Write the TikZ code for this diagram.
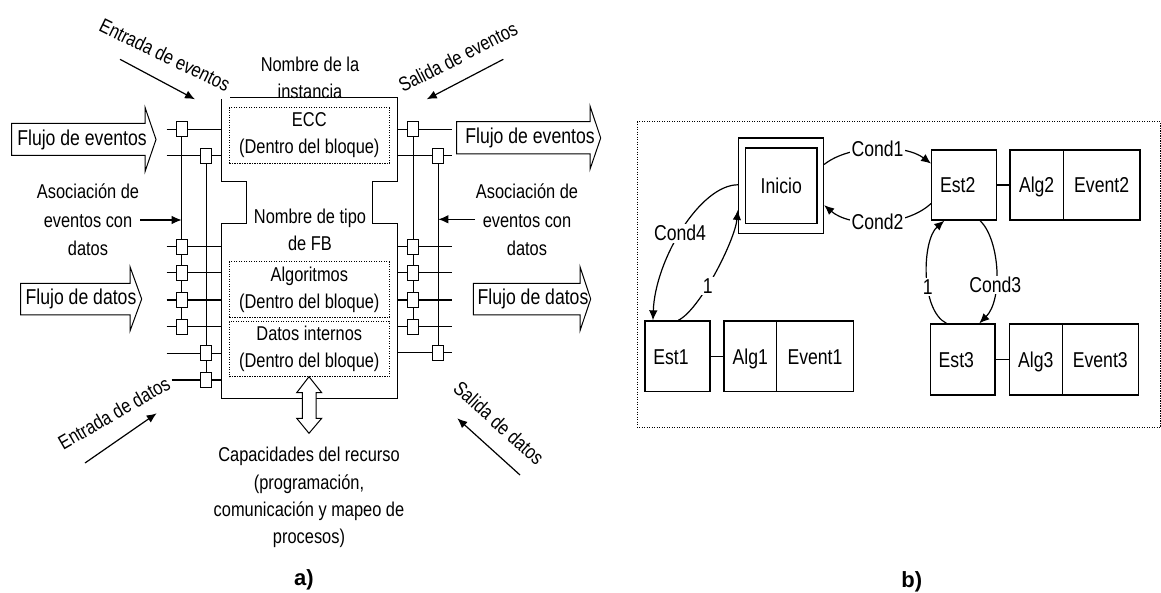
\documentclass[tikz,border=0pt]{standalone}
\usepackage{fontspec}
\setmainfont{Liberation Sans}[FakeStretch=0.82]
\newfontfamily\labfont{Liberation Sans}
\usetikzlibrary{arrows.meta,calc}
\begin{document}
\begin{tikzpicture}[x=1pt,y=-1pt,line width=1.2pt,
  ta/.style={font=\fontsize{20}{27}\selectfont,align=center,inner sep=0pt},
  tf/.style={font=\fontsize{21.5}{27}\selectfont,inner sep=0pt},
  tb/.style={font=\fontsize{21.5}{26}\selectfont,inner sep=1pt},
  lab/.style={tb,fill=white,inner sep=1.5pt},
  pin/.style={draw,fill=white,minimum width=11pt,minimum height=15pt,inner sep=0pt,line width=1pt},
  dotbox/.style={draw,dash pattern=on 1.2pt off 1.3pt,line width=1pt},
  fat/.style={draw,fill=white,line width=1pt,line join=miter},
  arr/.style={-{Latex[length=10pt,width=8.5pt]}},
  st/.style={draw,line width=1.3pt,tb,inner sep=0pt,text height=15.5pt,text depth=0pt},
  flab/.style={font=\labfont\bfseries\fontsize{22}{26}\selectfont,inner sep=0pt},
]
\useasboundingbox (0,0) rectangle (1161,593);

% ---------------- part a ----------------
% function block outline
\draw (230,97.7) -- (397.3,97.7) -- (397.3,181.7) -- (372.7,181.7) -- (372.7,223.3) -- (397.3,223.3) -- (397.3,398.3) -- (221.7,398.3) -- (221.7,223.3) -- (246.7,223.3) -- (246.7,181.7) -- (221.7,181.7) -- (221.7,99.3);

\node[ta] (inst) at (310,78.3) {Nombre de la\\instancia};
\node[ta] (tipo) at (310,230) {Nombre de tipo\\de FB};
\node[ta,dotbox,minimum width=160pt,minimum height=55.6pt] (ecc) at (309.3,135.5) {ECC\\(Dentro del bloque)};
\node[ta,dotbox,minimum width=160pt,minimum height=55.6pt] (alg) at (309.3,289.5) {Algoritmos\\(Dentro del bloque)};
\node[ta,dotbox,minimum width=160pt,minimum height=55pt] (dat) at (309.3,349.2) {Datos internos\\(Dentro del bloque)};

% interface lines
\foreach \y in {129.3,155.7,246.7,272.7,300,326.7,353.3} \draw (166.7,\y) -- (221.7,\y);
\draw (171.7,380) -- (221.7,380);
\foreach \y in {129.3,155.7,246.7,272.7,300,326.7,352.7} \draw (397.3,\y) -- (451.7,\y);

% pins left
\node[pin] (lp1) at (181.7,129.3) {};
\node[pin] (lp2) at (206,155.7) {};
\node[pin] (ld1) at (181.7,246.7) {};
\node[pin] (ld2) at (181.7,272.7) {};
\node[pin] (ld3) at (181.7,300) {};
\node[pin] (ld4) at (181.7,326.7) {};
\node[pin] (ld5) at (206,353.3) {};
\node[pin] (ld6) at (206,380) {};
% pins right
\node[pin] (rp1) at (413.3,129.3) {};
\node[pin] (rp2) at (438.3,155.7) {};
\node[pin] (rd1) at (413.3,246.7) {};
\node[pin] (rd2) at (413.3,272.7) {};
\node[pin] (rd3) at (413.3,300) {};
\node[pin] (rd4) at (413.3,326.7) {};
\node[pin] (rd5) at (438.3,352.7) {};

% association bars
\draw[line width=1pt] (lp1) -- (ld1); \draw[line width=1pt] (ld1) -- (ld2); \draw[line width=1pt] (ld2) -- (ld3); \draw[line width=1pt] (ld3) -- (ld4);
\draw[line width=1pt] (lp2) -- (ld5); \draw[line width=1pt] (ld5) -- (ld6);
\draw[line width=1pt] (rp1) -- (rd1); \draw[line width=1pt] (rd1) -- (rd2); \draw[line width=1pt] (rd2) -- (rd3); \draw[line width=1pt] (rd3) -- (rd4);
\draw[line width=1pt] (rp2) -- (rd5);

% flow arrows
\draw[fat] (11.7,123.3) -- (145,123.3) -- (145,107.3) -- (156,139.5) -- (145,171.7) -- (145,155.3) -- (11.7,155.3) -- cycle;
\node[tf] (fe1) at (82,140) {Flujo de eventos};
\draw[fat] (20.7,283.3) -- (130,283.3) -- (130,266.7) -- (141.7,299) -- (130,331) -- (130,315) -- (20.7,315) -- cycle;
\node[tf] (fd1) at (81,299) {Flujo de datos};
\draw[fat] (456.7,121.7) -- (590,121.7) -- (590,106) -- (600.7,138) -- (590,169.3) -- (590,154) -- (456.7,154) -- cycle;
\node[tf] (fe2) at (530,138) {Flujo de eventos};
\draw[fat] (473.3,283.3) -- (580,283.3) -- (580,266.7) -- (590.7,299) -- (580,330.7) -- (580,315) -- (473.3,315) -- cycle;
\node[tf] (fd2) at (533,299) {Flujo de datos};

% association labels
\node[ta,font=\fontsize{20}{28.3}\selectfont] (asl) at (88,220) {Asociación de\\eventos con\\datos};
\coordinate (aslt) at (140,220);
\draw[arr] (aslt) -- (lp1 |- aslt);
\node[ta,font=\fontsize{20}{28.3}\selectfont] (asr) at (527,220) {Asociación de\\eventos con\\datos};
\coordinate (asrt) at (475,219.3);
\draw[arr] (asrt) -- (rp2 |- asrt);

% diagonal labels and arrows
\node[ta,rotate=-26] (ee) at (165,55) {Entrada de eventos};
\coordinate (ee0) at (120,59.3); \coordinate (ee1) at (195,99.3);
\draw[arr] (ee0) -- (ee1);
\node[ta,rotate=27] (se) at (458,57) {Salida de eventos};
\coordinate (se0) at (503.3,59.3); \coordinate (se1) at (426.7,99.3);
\draw[arr] (se0) -- (se1);
\node[ta,rotate=30] (ed) at (114,413) {Entrada de datos};
\coordinate (ed0) at (85,463); \coordinate (ed1) at (156.7,413.3);
\draw[arr] (ed0) -- (ed1);
\node[ta,rotate=-42] (sd) at (499,423) {Salida de datos};
\coordinate (sd0) at (520,475); \coordinate (sd1) at (457.3,418.3);
\draw[arr] (sd0) -- (sd1);

% resource double arrow
\draw[fat] (309,376.7) -- (321.7,392.7) -- (316,392.7) -- (316,418.3) -- (321.7,418.3) -- (309,433.3) -- (296.7,418.3) -- (302.3,418.3) -- (302.3,392.7) -- (296.7,392.7) -- cycle;
\node[ta,font=\fontsize{20}{27.1}\selectfont] (cap) at (309,497.4) {Capacidades del recurso\\(programación,\\comunicación y mapeo de\\procesos)};

\node[flab] (la) at (304,580) {a)};

% ---------------- part b ----------------
\draw[dotbox] (637.3,121.7) rectangle (1160.5,427.5);

\node[st,minimum width=85pt,minimum height=95.5pt] (ini) at (781,185.75) {};
\node[st,minimum width=71.5pt,minimum height=75.5pt] (iniin) at (781.25,185.75) {Inicio};

\node[st,minimum width=65pt,minimum height=70pt] (est2) at (964.2,185) {Est2\hspace*{13pt}};
\node[st,minimum width=53.3pt,minimum height=70pt] (alg2) at (1036.65,185) {Alg2};
\node[st,minimum width=76.7pt,minimum height=70pt] (ev2) at (1101.65,185) {Event2};
\draw (est2) -- (alg2);

\node[st,minimum width=64.3pt,minimum height=71pt] (est3) at (962.85,359.5) {Est3\hspace*{13pt}};
\node[st,minimum width=53pt,minimum height=71pt] (alg3) at (1035.8,359.5) {Alg3};
\node[st,minimum width=76pt,minimum height=71pt] (ev3) at (1100.3,359.5) {Event3};
\draw (est3) -- (alg3);

\node[st,minimum width=65pt,minimum height=70.7pt] (est1) at (677.5,356.35) {Est1\hspace*{13pt}};
\node[st,minimum width=52.7pt,minimum height=70.7pt] (alg1) at (750.35,356.35) {Alg1};
\node[st,minimum width=76.6pt,minimum height=70.7pt] (ev1) at (815,356.35) {Event1};
\draw (est1) -- (alg1);

% transitions
\draw[arr] ($(ini.north east)!0.28!(ini.south east)$) .. controls (850,144) and (905,144) .. ($(est2.north west)!0.2!(est2.south west)$) node[lab,pos=0.5] (c1) {Cond1};
\draw[arr] ($(est2.north west)!0.76!(est2.south west)$) .. controls (905,227.5) and (850,227.5) .. ($(ini.north east)!0.7!(ini.south east)$) node[lab,pos=0.5] (c2) {Cond2};
\draw[arr] ($(ini.north west)!0.49!(ini.south west)$) .. controls (700,185) and (655,260) .. ($(est1.north west)!0.13!(est1.north east)$) node[lab,pos=0.52] (c4) {Cond4};
\draw[arr] ($(est1.north west)!0.51!(est1.north east)$) .. controls (700,310) and (735,240) .. ($(ini.north west)!0.75!(ini.south west)$) node[lab,pos=0.4] (o1) {1};
\draw[arr] ($(est2.south west)!0.74!(est2.south east)$) .. controls (1000,240) and (1003,300) .. ($(est3.north west)!0.75!(est3.north east)$) node[lab,pos=0.62] (c3) {Cond3};
\draw[arr] ($(est3.north west)!0.25!(est3.north east)$) .. controls (920,310) and (922,240) .. ($(est2.south west)!0.2!(est2.south east)$) node[lab,pos=0.4] (o2) {1};

\node[flab] (lb) at (911.7,581.7) {b)};
\end{tikzpicture}
\end{document}
